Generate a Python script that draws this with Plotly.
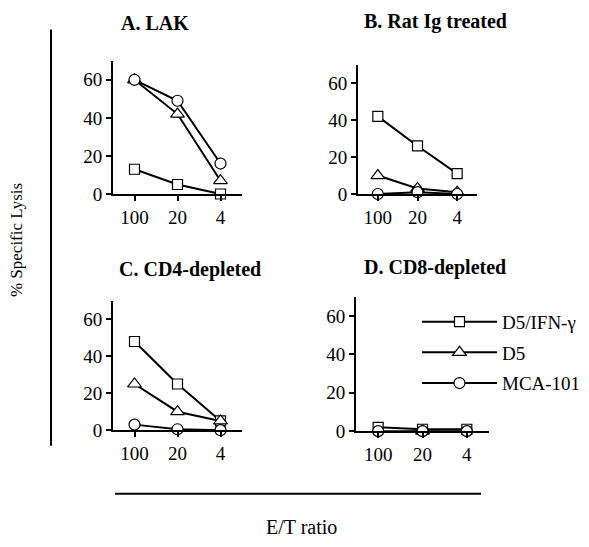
import plotly.graph_objects as go

W, H = 589, 547

ratios = ["100", "20", "4"]
series_names = ["D5/IFN-γ", "D5", "MCA-101"]
panel_titles = ["A. LAK", "B. Rat Ig treated", "C. CD4-depleted", "D. CD8-depleted"]

# % specific lysis per panel
lak_ifn = [13, 5, 0]
lak_d5 = [60, 42, 7]
lak_mca = [60, 49, 16]

ratig_ifn = [42, 26, 11]
ratig_d5 = [10, 3, 1]
ratig_mca = [0, 1, 0]

cd4_ifn = [48, 25, 5]
cd4_d5 = [25, 10, 5]
cd4_mca = [3, 0.5, 0]

cd8_ifn = [2, 1, 1]
cd8_d5 = [-1, 0, -1]
cd8_mca = [0, 0, 0]

panels = [
    (lak_ifn, lak_d5, lak_mca),
    (ratig_ifn, ratig_d5, ratig_mca),
    (cd4_ifn, cd4_d5, cd4_mca),
    (cd8_ifn, cd8_d5, cd8_mca),
]

# pixel boxes (left, right, top, bottom) for each panel
boxes = [(113, 242, 62, 198), (358, 477, 66, 198), (113, 242, 307, 439), (356, 489, 303, 440)]
title_pos = [(155, 23), (435, 22), (190, 275), (435, 273)]

FONT = "Times New Roman, Liberation Serif, Tinos, DejaVu Serif, serif"
symbols = ["square", "triangle-up", "circle"]
sizes = [10, 12, 11]

fig = go.Figure()
layout = dict()
for i, (vals, box) in enumerate(zip(panels, boxes)):
    n = "" if i == 0 else str(i + 1)
    for j, v in enumerate(vals):
        fig.add_trace(go.Scatter(
            x=ratios, y=v, mode="lines+markers",
            name=series_names[j], legendgroup=series_names[j],
            showlegend=(i == 3),
            xaxis="x" + n, yaxis="y" + n, cliponaxis=False,
            line=dict(color="black", width=2),
            marker=dict(symbol=symbols[j], size=sizes[j], color="white",
                        line=dict(width=1.2, color="black")),
        ))
    l, r, t, b = box
    layout["xaxis" + n] = dict(
        domain=[l / W, r / W], anchor="y" + n, type="category",
        range=[-0.5, 2.5], showline=True, linecolor="black", linewidth=2,
        ticks="outside", ticklen=5, tickwidth=1.5, tickcolor="black",
        showgrid=False, zeroline=False,
        tickfont=dict(family=FONT, size=19, color="black"),
    )
    layout["yaxis" + n] = dict(
        domain=[1 - b / H, 1 - t / H], anchor="x" + n,
        range=[0, 70], tickvals=[0, 20, 40, 60],
        showline=True, linecolor="black", linewidth=2,
        ticks="outside", ticklen=5, tickwidth=1.5, tickcolor="black",
        showgrid=False, zeroline=False,
        tickfont=dict(family=FONT, size=19, color="black"),
    )

annotations = []
for (tx, ty), txt in zip(title_pos, panel_titles):
    annotations.append(dict(x=tx / W, y=1 - ty / H, xref="paper", yref="paper",
                            text="<b>" + txt + "</b>", showarrow=False,
                            xanchor="center", yanchor="middle",
                            font=dict(family=FONT, size=20, color="black")))
annotations.append(dict(x=16 / W, y=1 - 245 / H, xref="paper", yref="paper",
                        text="% Specific Lysis", textangle=-90, showarrow=False,
                        xanchor="center", yanchor="middle",
                        font=dict(family=FONT, size=17, color="black")))
annotations.append(dict(x=301 / W, y=1 - 538 / H, xref="paper", yref="paper",
                        text="E/T ratio", showarrow=False,
                        xanchor="center", yanchor="middle",
                        font=dict(family=FONT, size=20, color="black")))

shapes = [
    dict(type="line", xref="paper", yref="paper", x0=51 / W, x1=51 / W,
         y0=1 - 30 / H, y1=1 - 455 / H, line=dict(color="black", width=2)),
    dict(type="line", xref="paper", yref="paper", x0=115 / W, x1=481 / W,
         y0=1 - 504 / H, y1=1 - 504 / H, line=dict(color="black", width=2)),
]

fig.update_layout(
    width=W, height=H, margin=dict(l=0, r=0, t=0, b=0),
    paper_bgcolor="white", plot_bgcolor="white",
    showlegend=True,
    legend=dict(x=417 / W, y=1 - 309 / H, xanchor="left", yanchor="top",
                font=dict(family=FONT, size=19, color="black"),
                tracegroupgap=3, itemwidth=75, bgcolor="rgba(0,0,0,0)"),
    annotations=annotations, shapes=shapes,
    **layout,
)

fig.write_html("out.html", config={"displayModeBar": False},
               post_script="document.body.style.margin='0px';")
